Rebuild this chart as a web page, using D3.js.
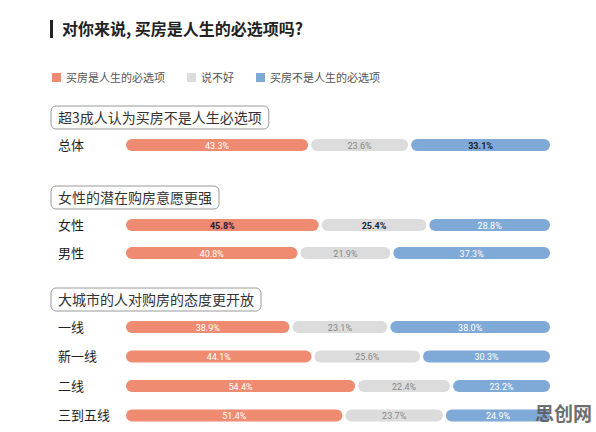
<!DOCTYPE html>
<html>
<head>
<meta charset="utf-8">
<script src="https://cdn.jsdelivr.net/npm/d3@7"></script>
<style>
  body { margin: 0; background: #fff; }
  svg { display: block; font-family: "Noto Sans CJK SC", sans-serif; }
</style>
</head>
<body>
<svg width="596" height="432"></svg>
<script>
const seriesNames = ["买房是人生的必选项", "说不好", "买房不是人生的必选项"];
const colors = ["#ef8b70", "#dcdcdc", "#7fa9d6"];
const sections = [
  { title: "超3成人认为买房不是人生必选项", rows: ["总体"] },
  { title: "女性的潜在购房意愿更强", rows: ["女性", "男性"] },
  { title: "大城市的人对购房的态度更开放", rows: ["一线", "新一线", "二线", "三到五线"] }
];
const must = [43.3, 45.8, 40.8, 38.9, 44.1, 54.4, 51.4];
const unsure = [23.6, 25.4, 21.9, 23.1, 25.6, 22.4, 23.7];
const notMust = [33.1, 28.8, 37.3, 38.0, 30.3, 23.2, 24.9];
const highlight = { "总体": [false, false, true], "女性": [true, true, false] };

const svg = d3.select("svg");
const x = d3.scaleLinear().domain([0, 100]).range([126, 550]);

// title
svg.append("rect").attr("x", 50).attr("y", 20).attr("width", 3).attr("height", 18).attr("fill", "#222");
svg.append("text").attr("x", 62).attr("y", 35).attr("font-size", 16).attr("font-weight", "bold")
  .attr("fill", "#222").text("对你来说, 买房是人生的必选项吗?");

// legend
let lx = 52;
seriesNames.forEach((n, i) => {
  svg.append("rect").attr("x", lx).attr("y", 73).attr("width", 9).attr("height", 9).attr("fill", colors[i]);
  const t = svg.append("text").attr("x", lx + 14).attr("y", 82).attr("font-size", 11).attr("fill", "#555").text(n);
  lx += t.node().getComputedTextLength() + 36;
});

const sectionY = [106, 186, 288];
let idx = 0;
sections.forEach((s, si) => {
  const y0 = sectionY[si];
  const g = svg.append("g");
  const t = g.append("text").attr("x", 58).attr("y", y0 + 16.5).attr("font-size", 14)
    .attr("fill", "#333").text(s.title);
  const w = t.node().getComputedTextLength();
  g.insert("rect", "text").attr("x", 51).attr("y", y0).attr("width", w + 14).attr("height", 23)
    .attr("rx", 5).attr("fill", "none").attr("stroke", "#999");
  s.rows.forEach((r, ri) => {
    const cy = y0 + 39 + ri * (si === 2 ? 29.5 : 28);
    svg.append("text").attr("x", 58).attr("y", cy + 4.5).attr("font-size", 13).attr("fill", "#222").text(r);
    const vals = [must[idx], unsure[idx], notMust[idx]];
    let acc = 0;
    vals.forEach((v, k) => {
      const x0 = x(acc) + (k ? 1.5 : 0), x1 = x(acc + v) - (k < 2 ? 1.5 : 0);
      svg.append("rect").attr("x", x0).attr("y", cy - 6).attr("width", x1 - x0).attr("height", 12)
        .attr("rx", 6).attr("fill", colors[k]);
      const hl = highlight[r] && highlight[r][k];
      svg.append("text").attr("x", (x0 + x1) / 2).attr("y", cy + 3.5).attr("text-anchor", "middle")
        .attr("font-size", 9).attr("font-family", "Roboto, sans-serif")
        .attr("font-weight", hl ? "bold" : "normal")
        .attr("fill", hl ? "#1a2233" : (k === 1 ? "#888" : "#fff"))
        .text(v.toFixed(1) + "%");
      acc += v;
    });
    idx++;
  });
});

// watermark
svg.append("text").attr("x", 592).attr("y", 421).attr("text-anchor", "end").attr("font-size", 19)
  .attr("font-weight", "bold").attr("fill", "#555").attr("opacity", 0.85).text("思创网");
</script>
</body>
</html>
